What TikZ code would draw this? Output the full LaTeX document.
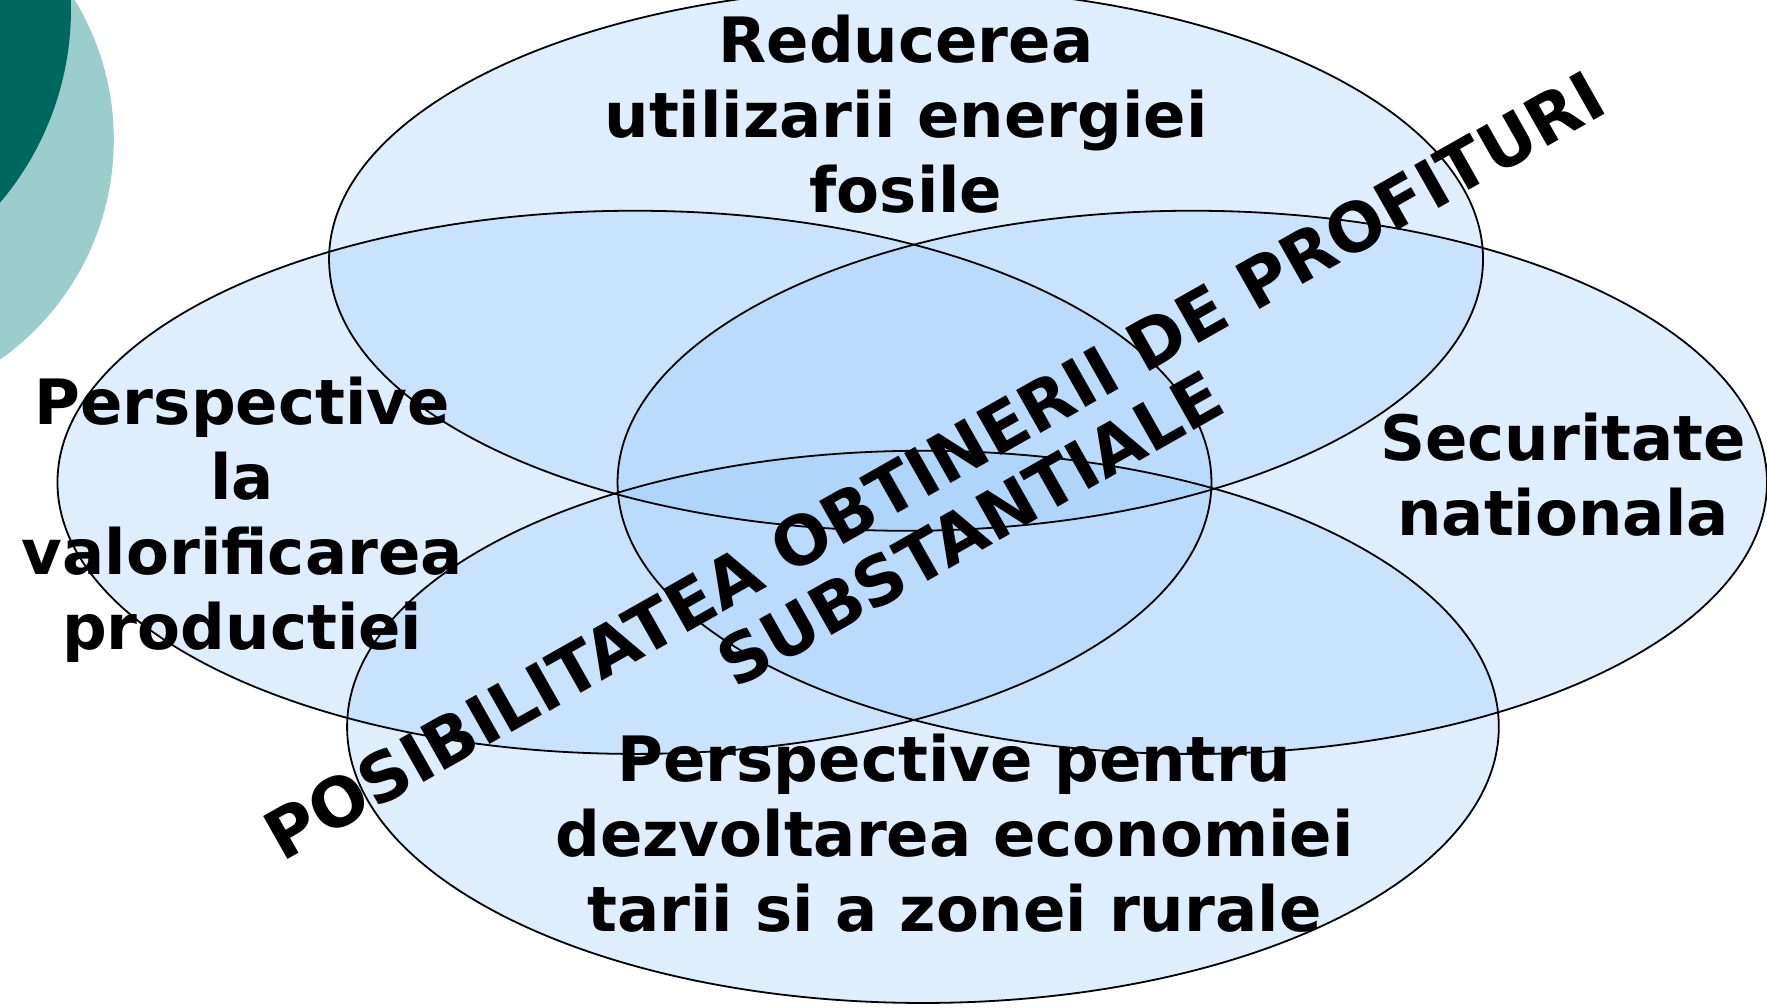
\documentclass[tikz,border=0pt]{standalone}
\usepackage{fontspec}
\setmainfont{DejaVu Sans}
\definecolor{ellblue}{RGB}{150,200,250}
\definecolor{tealLight}{RGB}{155,205,205}
\definecolor{tealDark}{RGB}{0,102,96}
\tikzset{
  ellfill/.style={fill=ellblue, fill opacity=0.3, draw=none},
  ellline/.style={draw=black, line width=1.6pt},
  lbl/.style={align=center, font=\fontsize{55.5}{66.5}\selectfont\bfseries, inner sep=0pt},
  rotlbl/.style={align=center, font=\fontsize{60}{65}\selectfont\bfseries, inner sep=0pt, rotate=29.5}
}
\begin{document}
\begin{tikzpicture}[x=1pt,y=-1pt]
\useasboundingbox (0,0) rectangle (1568,894);
\begin{scope}
\clip (0,0) rectangle (1568,894);
% decorative circles
\fill[tealLight] (-138,124) circle (239);
\fill[tealDark] (-203,8) circle (266);
% ellipse fills
\path[ellfill] (804,230) ellipse [x radius=512, y radius=241];
\path[ellfill] (563,428) ellipse [x radius=512, y radius=241];
\path[ellfill] (1058,428) ellipse [x radius=510, y radius=241];
\path[ellfill] (819,645) ellipse [x radius=511, y radius=245];
% ellipse outlines
\path[ellline] (804,230) ellipse [x radius=512, y radius=241];
\path[ellline] (563,428) ellipse [x radius=512, y radius=241];
\path[ellline] (1058,428) ellipse [x radius=510, y radius=241];
\path[ellline] (819,645) ellipse [x radius=511, y radius=245];
\end{scope}
% labels
\node[lbl] (top) at (804,101) {Reducerea\\utilizarii energiei\\fosile};
\node[lbl] (left) at (215,461) {Perspective\\la\\valorificarea\\productiei};
\node[lbl] (right) at (1387,421) {Securitate\\nationala};
\node[lbl] (bottom) at (847,739) {Perspective pentru\\dezvoltarea economiei\\tarii si a zonei rurale};
\node[rotlbl] (center) at (845,441) {POSIBILITATEA OBTINERII DE PROFITURI\\SUBSTANTIALE};
\end{tikzpicture}
\end{document}
